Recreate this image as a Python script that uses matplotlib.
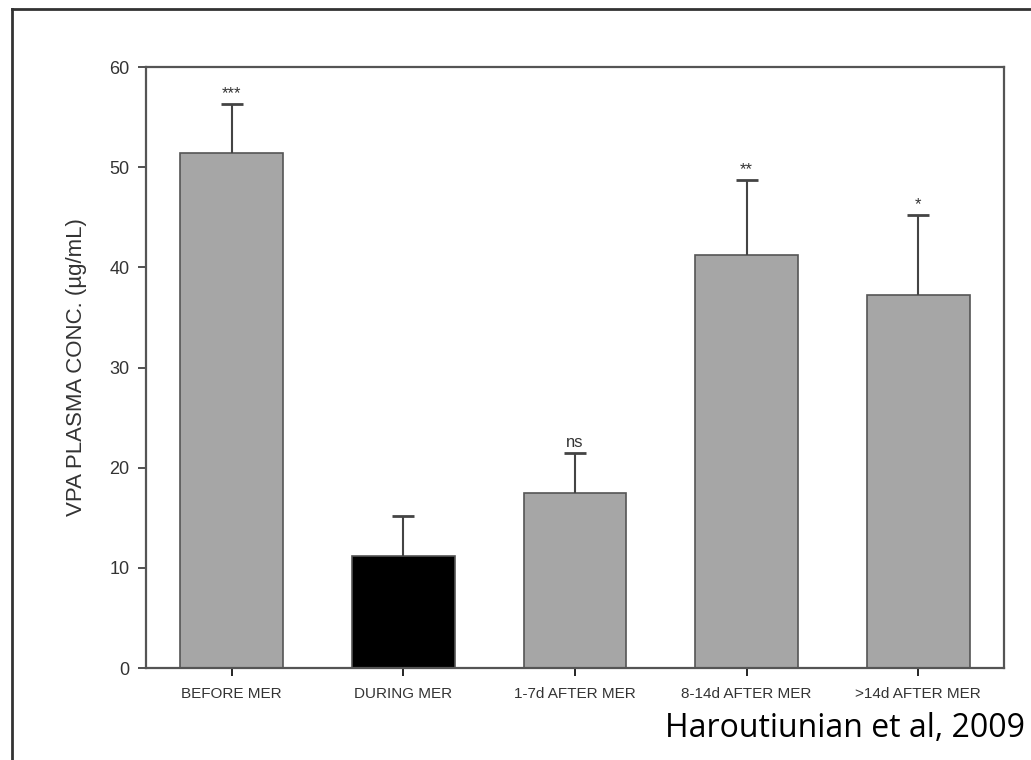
import matplotlib
matplotlib.use('Agg')
import matplotlib.pyplot as plt
from matplotlib.lines import Line2D

categories = ['BEFORE MER', 'DURING MER', '1-7d AFTER MER', '8-14d AFTER MER', '>14d AFTER MER']
means = [51.4, 11.2, 17.5, 41.2, 37.2]
sem = [4.9, 4.0, 4.0, 7.5, 8.0]
marks = ['***', '', 'ns', '**', '*']
bar_colors = ['#a6a6a6', '#000000', '#a6a6a6', '#a6a6a6', '#a6a6a6']

plt.rcParams['font.family'] = ['Liberation Sans', 'DejaVu Sans']

fig = plt.figure(figsize=(10.31, 7.6), dpi=100)
ax = fig.add_axes([0.1416, 0.121, 0.8322, 0.7908])

xs = list(range(len(categories)))
tops = [m + e for m, e in zip(means, sem)]
ax.bar(xs, means, width=0.6, color=bar_colors, edgecolor='#555555', linewidth=1.2, zorder=2)
# upper-only error bars
ax.vlines(xs, means, tops, color='#444444', linewidth=1.5, zorder=3)
ax.plot(xs, tops, linestyle='none', marker='_', markersize=16, markeredgewidth=2,
        color='#444444', zorder=3)
for x, t, s in zip(xs, tops, marks):
    if s:
        ax.text(x, t + 0.3, s, ha='center', va='bottom', fontsize=12, color='#333333')

ax.set_xlim(-0.5, 4.5)
ax.set_ylim(0, 60)
ax.set_yticks(range(0, 61, 10))
ax.set_xticks(xs)
ax.set_xticklabels(categories, fontsize=11, color='#333333')
ax.tick_params(axis='y', labelsize=13, colors='#333333', direction='out', length=6, width=1.2, pad=6)
ax.tick_params(axis='x', direction='out', length=6, width=1.2, pad=8)
ax.set_ylabel('VPA PLASMA CONC. (µg/mL)', fontsize=16, color='#333333', labelpad=16)
for sp in ax.spines.values():
    sp.set_color('#555555')
    sp.set_linewidth(1.6)

# outer frame (clipped at right and bottom)
fig.add_artist(Line2D([12 / 1031, 12 / 1031], [0, 1 - 9 / 760], transform=fig.transFigure,
                      color='#333333', linewidth=2))
fig.add_artist(Line2D([12 / 1031, 1], [1 - 9 / 760, 1 - 9 / 760], transform=fig.transFigure,
                      color='#333333', linewidth=2))

fig.text(1025 / 1031, 1 - 737 / 760, 'Haroutiunian et al, 2009', ha='right', va='baseline',
         fontsize=23, family=['Open Sans', 'DejaVu Sans'], color='black')

fig.savefig('out.png', dpi=100)
